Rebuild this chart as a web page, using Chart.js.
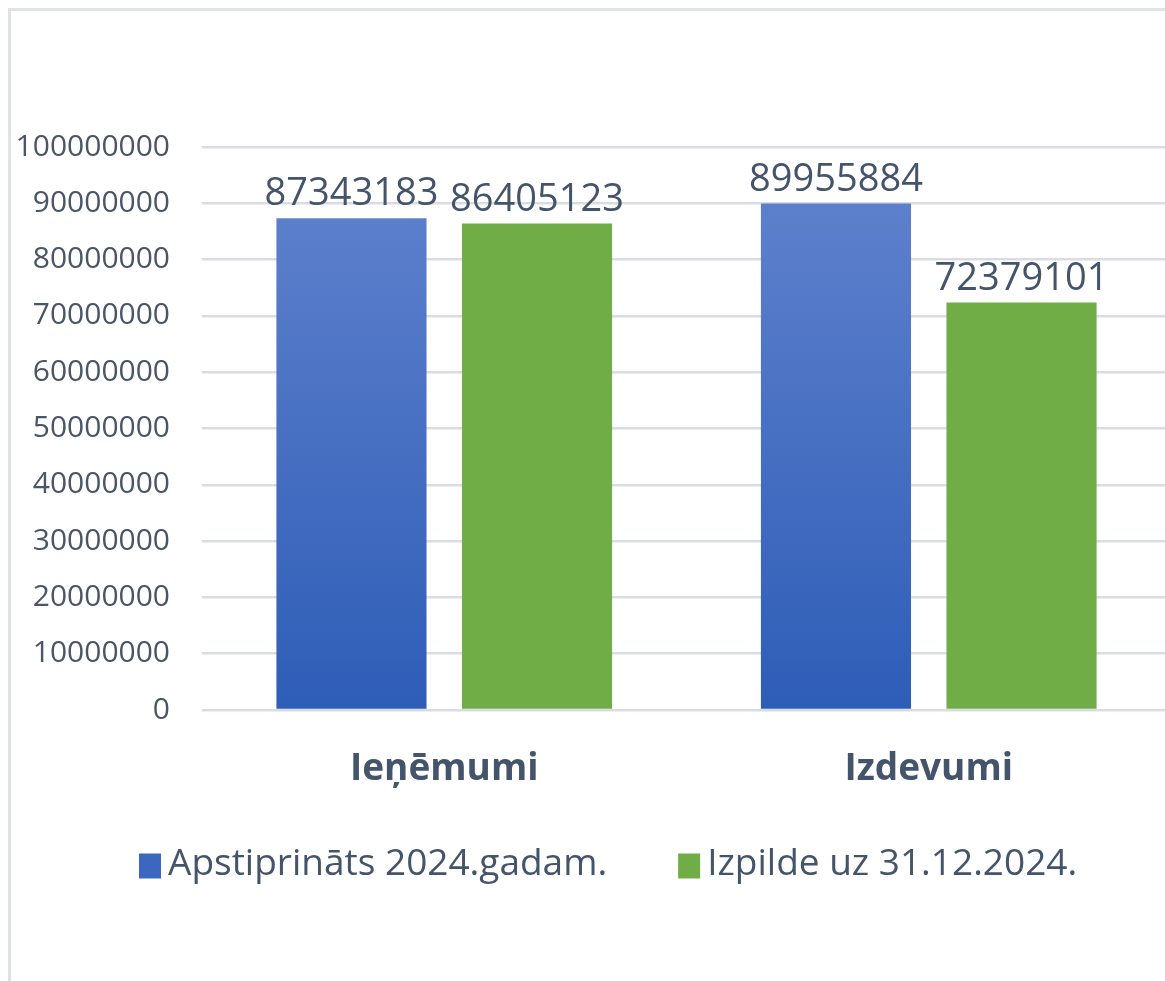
<!DOCTYPE html>
<html>
<head>
<meta charset="utf-8">
<script src="https://cdn.jsdelivr.net/npm/chart.js@4/dist/chart.umd.min.js"></script>
<style>
  html, body { margin: 0; padding: 0; background: #fff; overflow: hidden; width: 1165px; height: 981px; }
  #frame { position: absolute; left: 8px; top: 8px; width: 1200px; height: 1000px; border: 3px solid #DFE3E8; box-sizing: border-box; }
  #wrap { position: absolute; left: 0; top: 0; width: 1175px; height: 981px; }
</style>
</head>
<body>
<div id="frame"></div>
<div id="wrap"><canvas id="c" width="1175" height="981"></canvas></div>
<script>
const categories = ["Ieņēmumi", "Izdevumi"];
const seriesNames = ["Apstiprināts 2024.gadam.", "Izpilde uz 31.12.2024."];
const approved = [87343183, 89955884];
const executed = [86405123, 72379101];
const yTicks = [0, 10000000, 20000000, 30000000, 40000000, 50000000, 60000000, 70000000, 80000000, 90000000, 100000000];

const TEXT = '#44546A';
const FONT = "'Open Sans', 'Noto Sans', sans-serif";
const legendSwatches = ['#3C67C1', '#70AD47'];

function blueGrad(ctx) {
  const chart = ctx.chart;
  const area = chart.chartArea;
  if (!area) return '#3A66C0';
  const y = chart.scales.y;
  const g = chart.ctx.createLinearGradient(0, y.getPixelForValue(90000000), 0, area.bottom);
  g.addColorStop(0, '#5D80CC');
  g.addColorStop(1, '#2E5DB7');
  return g;
}

const valueLabels = {
  id: 'valueLabels',
  afterDatasetsDraw(chart) {
    const ctx = chart.ctx;
    ctx.save();
    ctx.font = "38px " + FONT;
    ctx.fillStyle = TEXT;
    ctx.textAlign = 'center';
    ctx.textBaseline = 'alphabetic';
    chart.data.datasets.forEach((ds, i) => {
      chart.getDatasetMeta(i).data.forEach((bar, j) => {
        ctx.fillText(String(ds.data[j]), bar.x, bar.y - 13);
      });
    });
    ctx.restore();
  }
};

// Legend drawn below the category labels (Excel-style: small square, narrow gap, wide gap between items)
const bottomLegend = {
  id: 'bottomLegend',
  afterDraw(chart) {
    const ctx = chart.ctx;
    const area = chart.chartArea;
    const cy = area.bottom + 154;
    const boxW = 22, boxH = 25, textGap = 7, itemGap = 71;
    ctx.save();
    ctx.font = "37px " + FONT;
    ctx.textBaseline = 'middle';
    ctx.textAlign = 'left';
    let x = 139;
    chart.data.datasets.forEach((ds, i) => {
      ctx.fillStyle = legendSwatches[i];
      ctx.fillRect(x, cy - boxH / 2 + 2, boxW, boxH);
      x += boxW + textGap;
      ctx.fillStyle = TEXT;
      ctx.fillText(ds.label, x, cy);
      x += ctx.measureText(ds.label).width + itemGap;
    });
    ctx.restore();
  }
};

new Chart(document.getElementById('c'), {
  type: 'bar',
  data: {
    labels: categories,
    datasets: [
      { label: seriesNames[0], data: approved, backgroundColor: blueGrad, borderWidth: 0 },
      { label: seriesNames[1], data: executed, backgroundColor: '#70AD47', borderWidth: 0 }
    ]
  },
  options: {
    responsive: false,
    animation: false,
    devicePixelRatio: 1,
    categoryPercentage: 0.766,
    barPercentage: 0.809,
    layout: { padding: { top: 147, right: 4, bottom: 186, left: 0 } },
    plugins: {
      legend: { display: false },
      tooltip: { enabled: false }
    },
    scales: {
      x: {
        grid: { display: false, drawTicks: false },
        border: { display: false },
        ticks: { color: TEXT, font: { family: FONT, size: 37, weight: 'bold' }, padding: 37 },
        afterFit(s) { s.height = 85; }
      },
      y: {
        min: 0,
        max: 100000000,
        afterBuildTicks(s) { s.ticks = yTicks.map(v => ({ value: v })); },
        grid: { color: '#D9DDE3', lineWidth: 2.5, drawTicks: false },
        border: { display: false },
        ticks: { color: '#4A5568', font: { family: FONT, size: 30 }, padding: 32, callback: v => String(v) },
        afterFit(s) { s.width = 202; }
      }
    }
  },
  plugins: [valueLabels, bottomLegend]
});
</script>
</body>
</html>
